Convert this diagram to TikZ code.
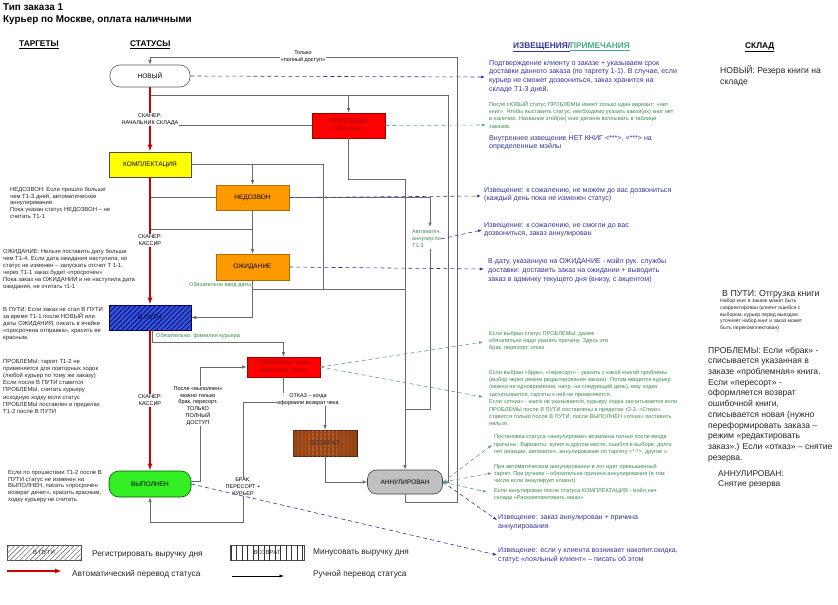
\documentclass[tikz,border=0pt]{standalone}
\usepackage{fontspec}
\setmainfont{Liberation Sans}
\usetikzlibrary{arrows.meta,patterns,patterns.meta,calc}
\definecolor{conncol}{HTML}{6A6A6A}
\definecolor{redarr}{HTML}{CC0000}
\definecolor{nblue}{HTML}{333399}
\definecolor{ngreen}{HTML}{3A8A4A}
\definecolor{hgreen}{HTML}{44AA88}
\definecolor{dgreen}{HTML}{66A08C}
\definecolor{probred}{HTML}{FF0000}
\definecolor{probtext}{HTML}{A00000}
\definecolor{kompcol}{HTML}{FFFF00}
\definecolor{orng}{HTML}{FF9900}
\definecolor{vpblue}{HTML}{3355DD}
\definecolor{vozbr}{HTML}{A0400A}
\definecolor{vypgr}{HTML}{33EE22}
\definecolor{anngr}{HTML}{C0C0C0}
\begin{document}
\begin{tikzpicture}[x=1pt,y=-1pt,
  stbox/.style={draw, minimum width=73pt, minimum height=25pt, inner sep=1pt, font=\fontsize{6.5}{7.5}\selectfont, align=center, line width=0.6pt},
  cline/.style={draw=conncol, line width=0.7pt},
  carr/.style={cline, -{Latex[length=4.5pt,width=3.5pt]}},
  redarrow/.style={draw=redarr, line width=1.6pt, -{Latex[length=7pt,width=5pt]}},
  bdash/.style={draw=nblue, line width=0.6pt, dash pattern=on 4pt off 3pt, -{Latex[length=4pt,width=3pt]}},
  gdash/.style={bdash, draw=dgreen},
  lbl/.style={fill=white, inner sep=0.5pt, align=center, font=\fontsize{5.5}{7.2}\selectfont},
  smallg/.style={text=ngreen, font=\fontsize{5.6}{7.4}\selectfont, align=left, inner sep=0, anchor=north west},
  noteb/.style={text=nblue, font=\fontsize{7.1}{8.7}\selectfont, align=left, inner sep=0, anchor=north west},
  tgt/.style={text=black!85, font=\fontsize{5.9}{7.1}\selectfont, align=left, inner sep=0, anchor=north west},
  skl/.style={text=black!85, font=\fontsize{8.6}{10.7}\selectfont, align=left, inner sep=0, anchor=north west},
  hdr/.style={anchor=base west, inner sep=0, font=\bfseries\fontsize{8.3}{10}\selectfont},
  lgtxt/.style={anchor=base west, inner sep=0, text=black!85, font=\fontsize{8.3}{10}\selectfont}
]
\useasboundingbox (0,0) rectangle (838,605);

% titles
\node[anchor=base west, inner sep=0, font=\bfseries\fontsize{9.9}{11}\selectfont] (t1) at (3,10.5) {Тип заказа 1};
\node[anchor=base west, inner sep=0, font=\bfseries\fontsize{9.9}{11}\selectfont] (t2) at (3,23) {Курьер по Москве, оплата наличными};
\node[hdr] (hTarg) at (19,46.5) {\underline{ТАРГЕТЫ}};
\node[hdr] (hStat) at (130,46.5) {\underline{СТАТУСЫ}};
\node[hdr] (hNote) at (513,48.5) {{\color{nblue}\underline{ИЗВЕЩЕНИЯ/}}{\color{hgreen}\underline{ПРИМЕЧАНИЯ}}};
\node[hdr] (hSkl) at (745,48) {\underline{СКЛАД}};

% status nodes
\node[stbox, rounded corners=10pt, fill=white, draw=gray!70!black, minimum width=80pt, minimum height=22pt] (novy) at (150,76) {НОВЫЙ};
\node[stbox, fill=probred, draw=probtext, text=probtext] (probA) at (348.5,125.5) {ПРОБЛЕМЫ\\(нет книг)};
\node[stbox, fill=kompcol, draw=gray!60!black, minimum width=82pt] (kompl) at (150,164.5) {КОМПЛЕКТАЦИЯ};
\node[stbox, fill=orng, draw=orng!70!black] (nedoz) at (252.5,197.5) {НЕДОЗВОН};
\node[stbox, fill=orng, draw=orng!70!black, minimum height=26pt] (ozhid) at (252.5,267) {ОЖИДАНИЕ};
\node[stbox, fill=vpblue, draw=blue!40!black, minimum width=82pt, text=blue!25!black,
  postaction={pattern={Lines[angle=45,distance=3.5pt,line width=0.7pt]}, pattern color=blue!35!black}] (vputi) at (150,317.5) {В ПУТИ};
\node[stbox, fill=probred, draw=probtext, text=probtext, minimum height=20pt] (probB) at (283.5,367) {ПРОБЛЕМЫ: брак,\\пересорт, отказ};
\node[stbox, fill=vozbr, draw=vozbr!50!black, minimum width=64pt, minimum height=26pt, text=black!80,
  postaction={pattern={Lines[angle=90,distance=4pt,line width=0.6pt]}, pattern color=black!70}] (vozvr) at (325,443) {ВОЗВРАТ};
\node[stbox, rounded corners=10pt, fill=vypgr, draw=green!35!black, minimum width=82pt, minimum height=26pt] (vypoln) at (150,484) {ВЫПОЛНЕН};
\node[stbox, rounded corners=9pt, fill=anngr, draw=gray!50!black, minimum width=75pt, minimum height=24pt] (annul) at (405,482) {АННУЛИРОВАН};
\node[text=ngreen, font=\fontsize{5.5}{7}\selectfont, align=left, inner sep=0, anchor=north west] (autoann) at (412,229.8) {Автоматич.\\аннулир.по\\Т1-3};

% coordinates for bends
\coordinate (c457) at (457,57);
\coordinate (j95) at (150,95);
\coordinate (c448) at (448,95);
\coordinate (c323) at (323,289);
\coordinate (j229) at (150,229);
\coordinate (aa1) at (430,227);
\coordinate (aa2) at (430,248.5);
\coordinate (c409) at (405,409);
\coordinate (c402) at (283.5,402);
\coordinate (c522) at (243,522);

% grey connectors
\draw[carr] (annul.south) -- ++(0,8) -| (c457) -| (novy.north);
\draw[carr] (j95) -- (c448) |- (annul.east);
\draw[carr] (j95 -| probA.north) -- (probA.north);
\draw[cline] (probA.west) -- (probA.west -| novy.south);
\draw[carr] (probA.south) -- ++(0,41.5) -| (annul.north);
\draw[cline] (kompl.east) -| (c323) -- (c323 -| annul.north);
\draw[carr] (kompl.east -| nedoz.north) -- (nedoz.north);
\draw[cline] (nedoz.west) -- (nedoz.west -| kompl.south);
\draw[cline] (j229) -- (j229 -| ozhid.north);
\draw[carr] (nedoz.south) -- (ozhid.north);
\draw[cline] (ozhid.south) |- (c323);
\draw[carr] (ozhid.south |- c323) |- (vputi.east);
\draw[carr] (nedoz.east) -| (aa1);
\draw[cline] (aa2) |- (c409);
\draw[carr] ([xshift=2pt]vputi.south) -- ++(0,12) -| (probB.north);
\draw[carr] ([yshift=3pt]vypoln.east) -- ++(9,0) |- (probB.west);
\draw[carr] (probB.south) -- (c402) -| (c522) -| (vypoln.south);
\draw[carr] (c402) -| (vozvr.north);
\draw[carr] (vozvr.south) |- (annul.west);

% automatic (red) transitions
\draw[redarrow] (novy.south) -- (kompl.north);
\draw[redarrow] (kompl.south) -- (vputi.north);
\draw[redarrow] (vputi.south) -- (vypoln.north);

% connector labels
\node[lbl] (lTolko) at (303,56.5) {Только\\«полный доступ»};
\node[lbl] (lSk1) at (150,119.5) {СКАНЕР:\\НАЧАЛЬНИК СКЛАДА};
\node[lbl] (lSk2) at (150,240.5) {СКАНЕР:\\КАССИР};
\node[lbl] (lSk3) at (150,400.5) {СКАНЕР:\\КАССИР};
\node[lbl, font=\fontsize{5.5}{6.8}\selectfont] (lPosle) at (198,406) {После «выполнен»\\можно только\\брак, пересорт.\\ТОЛЬКО\\ПОЛНЫЙ\\ДОСТУП};
\node[lbl, font=\fontsize{5.5}{7}\selectfont] (lOtkaz) at (308,399.5) {ОТКАЗ – когда\\оформили возврат чека};
\node[lbl, font=\fontsize{5.5}{7}\selectfont] (lBrak) at (243,487) {БРАК,\\ПЕРЕСОРТ +\\КУРЬЕР};
\node[anchor=base west, inner sep=0, text=ngreen, font=\fontsize{5.6}{7}\selectfont] (oblDate) at (189,286) {Обязательно ввод даты};
\node[anchor=base west, inner sep=0, text=ngreen, font=\fontsize{5.6}{7}\selectfont] (oblKur) at (156,337) {Обязательно: фамилия курьера};

% dashed note connectors
\coordinate (tNovy) at (485,77);
\coordinate (tProbA) at (486,125);
\coordinate (tNed) at (481,196);
\coordinate (tAA) at (482,230);
\coordinate (tOzh) at (484,269);
\coordinate (tPB1) at (483,342);
\coordinate (tPB2) at (483,397);
\coordinate (tAn1) at (492,445);
\coordinate (tAn2) at (492,473);
\coordinate (tAn3) at (487,492);
\coordinate (tAn4) at (497,520);
\coordinate (tVyp) at (497,555);
\draw[bdash] (novy.east) -- (tNovy);
\draw[gdash] (probA.east) -- (tProbA);
\draw[bdash] (nedoz.east) -- (tNed);
\draw[bdash] (autoann.east) -- (tAA);
\draw[bdash] (ozhid.east) -- (tOzh);
\draw[gdash] (probB.east) -- (tPB1);
\draw[gdash] (probB.east) -- (tPB2);
\draw[gdash] (annul.east) -- (tAn1);
\draw[gdash] (annul.east) -- (tAn2);
\draw[gdash] (annul.east) -- (tAn3);
\draw[bdash] (annul.east) -- (tAn4);
\draw[bdash] (vypoln.east) -- (tVyp);

% notes
\node[noteb] (nNovy) at (489,60.2) {Подтверждение клиенту о заказе + указываем срок\\доставки данного заказа (по таргету 1-1). В случае, если\\курьер не сможет дозвониться, заказ хранится на\\складе Т1-3 дней.};
\node[smallg] (nProbA) at (489,100.8) {После НОВЫЙ статус ПРОБЛЕМЫ имеет только один вариант: «нет\\книг». Чтобы выставить статус, необходимо указать какой(их) книг нет\\в наличии. Название этой(их) книг должно всплывать в таблице\\заказов.};
\node[noteb] (nInt) at (489,135.2) {Внутреннее извещение НЕТ КНИГ <***>, <***> на\\определенные мэйлы};
\node[noteb] (nNed) at (484,187.2) {Извещение: к сожалению, не можем до вас дозвониться\\(каждый день пока не изменен статус)};
\node[noteb] (nAA) at (484,222.2) {Извещение: к сожалению, не смогли до вас\\дозвониться, заказ аннулирован};
\node[noteb] (nOzh) at (488,258.2) {В дату, указанную на ОЖИДАНИЕ - мэйл рук. службы\\доставки: доставить заказ на ожидании + выводить\\заказ в админку текущего дня (внизу, с акцентом)};
\node[smallg, font=\fontsize{5.6}{7}\selectfont] (nPB1) at (489,330.8) {Если выбран статус ПРОБЛЕМЫ, далее\\обязательно надо указать причину. Здесь это\\брак, пересорт, отказ};
\node[smallg] (nPB2) at (489,369.8) {Если выбран «брак», «пересорт» - указать с какой книгой проблемы\\(выбор через режим редактирования заказа). Потом вводится курьер\\(можно не одновременно, напр. на следующий день), ему ходка\\засчитывается, таргеты к ней не применяются.\\Если «отказ» - книга не указывается, курьеру ходка засчитывается  если\\ПРОБЛЕМЫ после В ПУТИ поставлены в пределах т2-2. «Отказ»\\ставится только после В ПУТИ, после ВЫПОЛНЕН «отказ» поставить\\нельзя.};
\node[smallg] (nAn1) at (494,434.7) {Постановка статуса «аннулирован» возможна только после ввода\\причины. Варианты: купил в другом месте, ошибся в выборе, долго\\нет реакции,  автоматич. аннулирование по таргету <*-*>, другое >>.};
\node[smallg] (nAn2) at (494,463.7) {При автоматическом аннулировании в лог идет превышенный\\таргет. При ручном – обязательна причина аннулирования (в том\\числе если аннулирует клиент)};
\node[smallg] (nAn3) at (494,487.7) {Если аннулирован после статуса КОМПЛЕКТАЦИЯ - мэйл нач.\\склада «Раскомплектовать заказ»};
\node[noteb, font=\fontsize{7.1}{9.5}\selectfont] (nAn4) at (498,514.2) {Извещение: заказ аннулирован + причина\\аннулирования};
\node[noteb, font=\fontsize{7.1}{9}\selectfont] (nVyp) at (498,547.2) {Извещение: если у клиента возникает накопит.скидка,\\статус «лояльный клиент» -- писать об этом};

% targets column
\node[tgt, font=\fontsize{5.9}{6.8}\selectfont] (gNed) at (10,186.8) {НЕДОЗВОН: Если прошло больше\\чем Т1-3 дней, автоматическое\\аннулирование.\\Пока указан статус НЕДОЗВОН – не\\считать Т1-1};
\node[tgt, font=\fontsize{5.9}{7.1}\selectfont] (gOzh) at (3,248.8) {ОЖИДАНИЕ: Нельзя поставить дату больше\\чем Т1-4. Если дата ожидания наступила, но\\статус не изменен – запускать отсчет Т 1-1,\\через Т1-1 заказ будет «просрочен»\\Пока заказ на ОЖИДАНИИ и не наступила дата\\ожидания, не считать т1-1};
\node[tgt, font=\fontsize{5.9}{7.2}\selectfont] (gVp) at (3,306.8) {В ПУТИ: Если заказ не стал В ПУТИ\\за время Т1-1 после НОВЫЙ или\\даты ОЖИДАНИЯ, писать в ячейке\\«просрочена отправка», красить ее\\красным.};
\node[tgt, font=\fontsize{5.9}{7.2}\selectfont] (gPr) at (3,358.8) {ПРОБЛЕМЫ: таргет Т1-2 не\\применяется для повторных ходок\\(любой курьер по тому же заказу)\\Если после В ПУТИ ставится\\ПРОБЛЕМЫ, считать курьеру\\исходную ходку если статус\\ПРОБЛЕМЫ поставлен в пределах\\Т1-2 после В ПУТИ};
\node[tgt, font=\fontsize{5.9}{6.9}\selectfont] (gVy) at (8,469.8) {Если по прошествии Т1-2 после В\\ПУТИ статус не изменен на\\ВЫПОЛНЕН, писать «просрочен\\возврат денег», красить красным,\\ходку курьеру не считать.};

% warehouse column
\node[skl, font=\fontsize{8.6}{11}\selectfont] (sNovy) at (720,65.6) {НОВЫЙ: Резерв книги на\\складе};
\node[anchor=base west, inner sep=0, text=black!85, font=\fontsize{8.8}{10}\selectfont] (sVp) at (722,296) {В ПУТИ: Отгрузка книги};
\node[tgt, font=\fontsize{5.1}{6.6}\selectfont] (sVp2) at (720,299) {Набор книг в заказе может быть\\скорректирован (клиент ошибся с\\выбором, курьер перед выездом\\уточняет набор книг и заказ может\\быть перекомплектован)};
\node[skl] (sPr) at (708,346.6) {ПРОБЛЕМЫ: Если «брак» -\\списывается указанная в\\заказе «проблемная» книга.\\Если «пересорт» -\\оформляется возврат\\ошибочной книги,\\списывается новая (нужно\\переформировать заказа –\\режим «редактировать\\заказ».) Если «отказ» – снятие\\резерва.};
\node[skl, font=\fontsize{8.4}{10}\selectfont] (sAn) at (718,470.6) {АННУЛИРОВАН:\\Снятие резерва};

% legend
\node[draw=black!70, minimum width=74pt, minimum height=15pt, inner sep=0, text=black!80, font=\fontsize{6}{7}\selectfont,
  postaction={pattern={Lines[angle=45,distance=3.5pt,line width=0.6pt]}, pattern color=black!55}] (lgVP) at (44,552.5) {В ПУТИ};
\node[lgtxt] (lgT1) at (92,556) {Регистрировать выручку дня};
\node[draw=black!70, minimum width=74pt, minimum height=15pt, inner sep=0, text=black!80, font=\fontsize{6}{7}\selectfont,
  postaction={pattern={Lines[angle=90,distance=5.5pt,line width=0.5pt]}, pattern color=black!80}] (lgVZ) at (267,552.5) {ВОЗВРАТ};
\node[lgtxt] (lgT2) at (313,554) {Минусовать выручку дня};
\coordinate (lr1) at (7,571);
\coordinate (lr2) at (62,571);
\draw[redarrow] (lr1) -- (lr2);
\node[lgtxt] (lgT3) at (72,576) {Автоматический перевод статуса};
\coordinate (lb1) at (232,576);
\coordinate (lb2) at (284,576);
\draw[carr, draw=black] (lb1) -- (lb2);
\node[lgtxt] (lgT4) at (313,576) {Ручной перевод статуса};
\end{tikzpicture}
\end{document}
